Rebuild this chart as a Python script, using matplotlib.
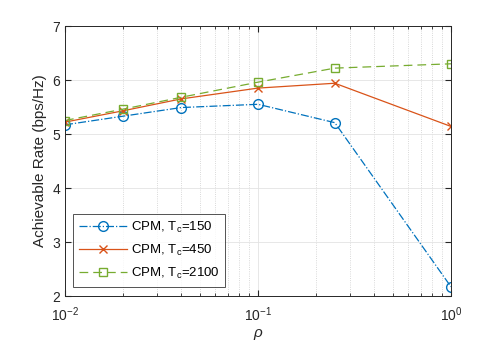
import matplotlib
matplotlib.use("Agg")
import matplotlib.pyplot as plt
from matplotlib.ticker import LogLocator, NullFormatter

plt.rcParams['font.family'] = ['Liberation Sans', 'DejaVu Sans']
plt.rcParams['mathtext.fontset'] = 'custom'
plt.rcParams['mathtext.rm'] = 'Liberation Sans'
plt.rcParams['mathtext.it'] = 'Liberation Sans:italic'

rho = [0.01, 0.02, 0.04, 0.1, 0.25, 1.0]
tc150 = [5.17, 5.33, 5.49, 5.55, 5.21, 2.17]
tc450 = [5.22, 5.43, 5.65, 5.85, 5.94, 5.14]
tc2100 = [5.25, 5.46, 5.68, 5.96, 6.22, 6.30]
labels = [r'CPM, T$_\mathrm{c}$=150', r'CPM, T$_\mathrm{c}$=450', r'CPM, T$_\mathrm{c}$=2100']

fig = plt.figure(figsize=(4.98, 3.43), dpi=100)
ax = fig.add_axes([65/498, 47/343, 386/498, 270/343])

ax.plot(rho, tc150, color='#0072BD', ls='-.', lw=0.9, marker='o', ms=7, mfc='none', mew=1.0, label=labels[0])
ax.plot(rho, tc450, color='#D95319', ls='-', lw=0.9, marker='x', ms=5.5, mew=1.0, label=labels[1])
ax.plot(rho, tc2100, color='#77AC30', ls=(0, (7, 4)), lw=0.9, marker='s', ms=6, mfc='none', mew=1.0, label=labels[2])

ax.set_xscale('log')
ax.set_xlim(0.01, 1)
ax.set_ylim(2, 7)
ax.set_yticks([2, 3, 4, 5, 6, 7])
ax.xaxis.set_minor_locator(LogLocator(base=10, subs=range(2, 10)))
ax.xaxis.set_minor_formatter(NullFormatter())

ax.grid(True, which='major', color='#e3e3e3', lw=0.6, ls='-')
ax.grid(True, which='minor', axis='x', color='#cccccc', lw=0.6, ls=':')
ax.set_axisbelow(True)

ax.tick_params(which='both', direction='in', top=True, right=True, labelsize=10, colors='#262626')
ax.tick_params(which='major', length=4)
ax.tick_params(which='minor', length=2)
ax.tick_params(axis='x', which='major', pad=7)
for s in ax.spines.values():
    s.set_color('#262626')
    s.set_linewidth(0.7)

ax.set_xlabel(r'$\it{\rho}$', fontsize=11, color='#262626', labelpad=2)
ax.set_ylabel('Achievable Rate (bps/Hz)', fontsize=11, color='#262626')

leg = ax.legend(loc='lower left', bbox_to_anchor=(0.021, 0.033), fontsize=9.5,
                frameon=True, fancybox=False, edgecolor='#262626', handlelength=3.6,
                handletextpad=0.3, borderpad=0.45, labelspacing=0.6, borderaxespad=0)
leg.get_frame().set_linewidth(0.7)

fig.savefig('out.png', dpi=100)
